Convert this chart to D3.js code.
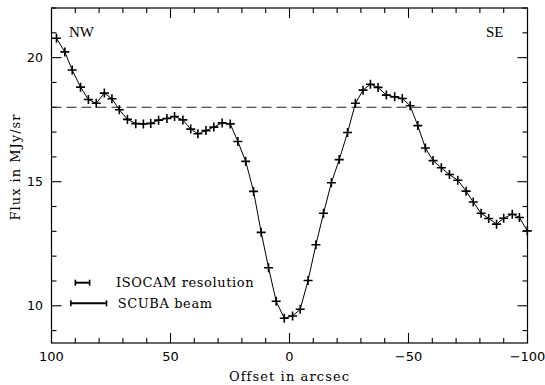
<!DOCTYPE html>
<html>
<head>
<meta charset="utf-8">
<script src="https://cdn.jsdelivr.net/npm/d3@7"></script>
<style>
  body { margin: 0; background: #fff; }
</style>
</head>
<body>
<div id="chart"></div>
<script>
/* Flux profile across the cloud, ISOCAM cut NW -> SE */

var offsets = [97.9, 94.4, 91.3, 87.8, 84.5, 81.2, 77.8, 74.6, 71.5, 68.1,
  64.6, 61.4, 58.3, 55.0, 51.5, 48.3, 44.8, 41.5, 38.5, 35.1,
  31.8, 28.3, 24.9, 21.7, 18.4, 15.1, 11.9, 8.8, 5.6, 2.2,
  -1.3, -4.5, -7.8, -11.1, -14.3, -17.6, -20.9, -24.4, -27.7, -30.9,
  -34.0, -37.2, -40.7, -44.2, -47.4, -50.7, -53.9, -57.1, -60.3, -63.8,
  -67.2, -70.7, -74.2, -77.2, -80.5, -83.7, -87.0, -90.0, -93.6, -96.6, -99.9];

var flux = [20.78, 20.23, 19.50, 18.81, 18.31, 18.16, 18.57, 18.34, 17.90, 17.51,
  17.34, 17.33, 17.35, 17.48, 17.55, 17.63, 17.49, 17.12, 16.93, 17.06,
  17.20, 17.37, 17.33, 16.62, 15.82, 14.61, 12.96, 11.53, 10.18, 9.50,
  9.59, 9.86, 11.02, 12.46, 13.73, 14.96, 15.89, 16.98, 18.16, 18.69,
  18.93, 18.80, 18.49, 18.42, 18.35, 18.06, 17.26, 16.36, 15.85, 15.56,
  15.29, 15.06, 14.62, 14.18, 13.73, 13.52, 13.29, 13.53, 13.69, 13.56, 13.02];

var xTicks = [100, 50, 0, -50, -100];
var yTicks = [10, 15, 20];
var refLevel = [18];

var legendNames = ['ISOCAM resolution', 'SCUBA beam'];
var legendWidths = [6, 15];   // arcsec

var SERIF = '"DejaVu Serif", serif';
var SANS = '"DejaVu Sans", sans-serif';
var TIMES = '"Liberation Serif", "Times New Roman", serif';

var width = 545, height = 385;
var margin = {top: 8, right: 17.5, bottom: 42, left: 51.5};

var svg = d3.select('#chart').append('svg')
  .attr('width', width)
  .attr('height', height);

var x = d3.scaleLinear().domain([100, -100])
  .range([margin.left, width - margin.right]);
var y = d3.scaleLinear().domain([8.5, 22])
  .range([height - margin.bottom, margin.top]);

var x0 = x.range()[0], x1 = x.range()[1];
var y0 = y.range()[0], y1 = y.range()[1];

/* frame */
svg.append('rect')
  .attr('x', x0).attr('y', y1)
  .attr('width', x1 - x0).attr('height', y0 - y1)
  .attr('fill', 'none').attr('stroke', '#000').attr('stroke-width', 1.2);

/* ticks, inward on all four sides */
var xMinor = d3.range(-100, 101, 10);
var yMinor = d3.range(9, 22.01, 1);
var ticks = svg.append('g').attr('stroke', '#000').attr('stroke-width', 1.1);

xMinor.forEach(function(v) {
  var len = (v % 50 === 0) ? 10 : 5;
  var px = x(v);
  ticks.append('line').attr('x1', px).attr('x2', px).attr('y1', y0).attr('y2', y0 - len);
  ticks.append('line').attr('x1', px).attr('x2', px).attr('y1', y1).attr('y2', y1 + len);
});
yMinor.forEach(function(v) {
  var len = (v % 5 === 0) ? 10 : 5;
  var py = y(v);
  ticks.append('line').attr('y1', py).attr('y2', py).attr('x1', x0).attr('x2', x0 + len);
  ticks.append('line').attr('y1', py).attr('y2', py).attr('x1', x1).attr('x2', x1 - len);
});

/* tick labels */
svg.selectAll('.xlab').data(xTicks).enter()
  .append('text')
  .attr('class', 'xlab')
  .attr('x', function(d) { return x(d); })
  .attr('y', 361)
  .attr('text-anchor', 'middle')
  .style('font-family', SANS)
  .style('font-size', '13px')
  .text(function(d) { return d < 0 ? '\u2212' + Math.abs(d) : d; });

svg.selectAll('.ylab').data(yTicks).enter()
  .append('text')
  .attr('class', 'ylab')
  .attr('x', 43)
  .attr('y', function(d) { return y(d); })
  .attr('dy', '0.36em')
  .attr('text-anchor', 'end')
  .style('font-family', SANS)
  .style('font-size', '12.5px')
  .text(function(d) { return d; });

/* axis titles */
svg.append('text')
  .attr('x', (x0 + x1) / 2)
  .attr('y', 381)
  .attr('text-anchor', 'middle')
  .style('font-family', SERIF)
  .style('font-size', '13px')
  .style('letter-spacing', '1.1px')
  .text('Offset in arcsec');

svg.append('text')
  .attr('transform', 'translate(20,167) rotate(-90)')
  .attr('text-anchor', 'middle')
  .style('font-family', SERIF)
  .style('font-size', '13px')
  .style('letter-spacing', '1px')
  .text('Flux in MJy/sr');

/* direction labels */
svg.append('text').attr('x', 69).attr('y', 36.5)
  .style('font-family', TIMES)
  .style('font-size', '15px').text('NW');
svg.append('text').attr('x', 486).attr('y', 37)
  .style('font-family', TIMES)
  .style('font-size', '15px').text('SE');

/* reference level */
svg.selectAll('.ref').data(refLevel).enter()
  .append('line')
  .attr('class', 'ref')
  .attr('x1', x0).attr('x2', x1)
  .attr('y1', function(d) { return y(d); })
  .attr('y2', function(d) { return y(d); })
  .attr('stroke', '#222')
  .attr('stroke-width', 1)
  .attr('stroke-dasharray', '10,5');

/* profile */
var pts = offsets.map(function(o, i) { return [o, flux[i]]; });

svg.append('path')
  .datum(pts)
  .attr('d', d3.line()
    .x(function(d) { return x(d[0]); })
    .y(function(d) { return y(d[1]); }))
  .attr('fill', 'none')
  .attr('stroke', '#000')
  .attr('stroke-width', 1);

var s = 4.5;
svg.append('g').selectAll('path.cross').data(pts).enter()
  .append('path')
  .attr('class', 'cross')
  .attr('d', function(d) {
    var cx = x(d[0]), cy = y(d[1]);
    return 'M' + (cx - s) + ',' + cy + 'H' + (cx + s) +
      'M' + cx + ',' + (cy - s) + 'V' + (cy + s);
  })
  .attr('stroke', '#000')
  .attr('stroke-width', 1.6)
  .attr('fill', 'none');

/* legend: beam sizes drawn to scale */
var legendCx = [82.5, 88.7];
var legendY = [282.7, 303.3];
var legendTextX = [116, 117.7];
var pxPerArcsec = Math.abs(x(0) - x(1));

legendNames.forEach(function(name, i) {
  var half = legendWidths[i] * pxPerArcsec / 2;
  var g = svg.append('g').attr('stroke', '#000');
  g.append('line')
    .attr('x1', legendCx[i] - half).attr('x2', legendCx[i] + half)
    .attr('y1', legendY[i]).attr('y2', legendY[i])
    .attr('stroke-width', 2);
  [-half, half].forEach(function(dx) {
    g.append('line')
      .attr('x1', legendCx[i] + dx).attr('x2', legendCx[i] + dx)
      .attr('y1', legendY[i] - 3).attr('y2', legendY[i] + 3)
      .attr('stroke-width', 1.6);
  });
  svg.append('text')
    .attr('x', legendTextX[i])
    .attr('y', legendY[i] + 4.5)
    .style('font-family', SERIF)
    .style('font-size', '13px')
    .style('letter-spacing', '0.6px')
    .text(name);
});
</script>
</body>
</html>
